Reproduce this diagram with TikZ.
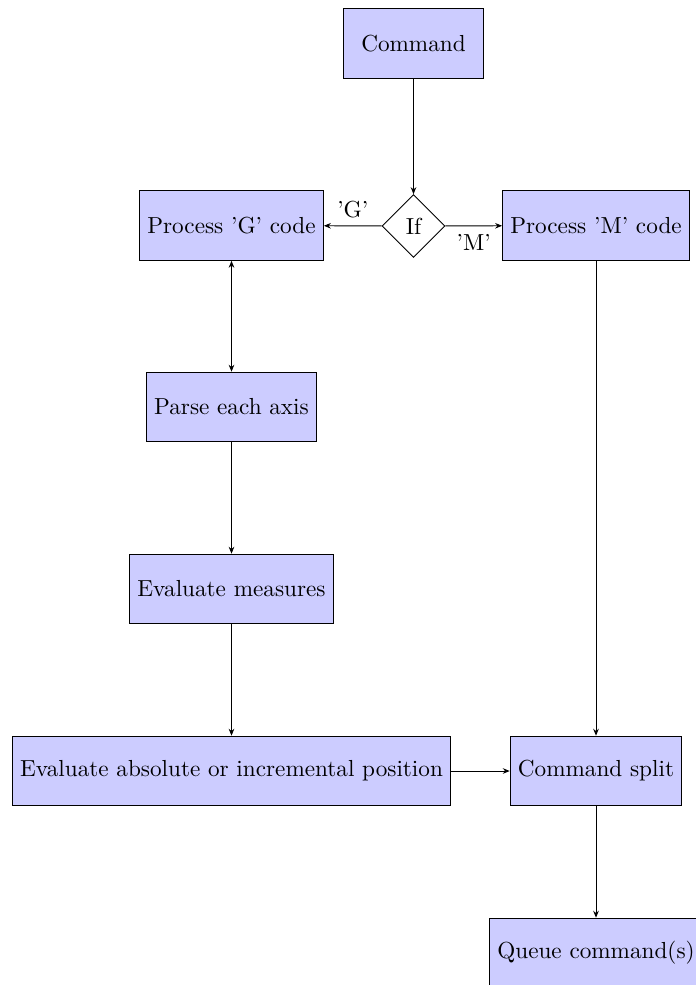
\documentclass[tikz,border=0pt]{standalone}
\usetikzlibrary{shapes.geometric,arrows.meta}
\begin{document}
\begin{tikzpicture}[x=0.431pt,y=-0.431pt,
  block/.style={rectangle,draw,fill=blue!20,minimum width=6em,minimum height=3em},
  decision/.style={diamond,draw,aspect=1},
  arr/.style={-{Stealth[length=3pt,width=2.4pt]}},
  dblarr/.style={{Stealth[length=3pt,width=2.4pt]}-{Stealth[length=3pt,width=2.4pt]}}]
\useasboundingbox (0,0) rectangle (695,985);

% nodes
\node[block] (cmd) at (413.5,43.5) {Command};
\node[decision] (if) at (413.5,226) {If};
\node[block] (pg) at (231.5,225.5) {Process 'G' code};
\node[block] (pm) at (596,225.5) {Process 'M' code};
\node[block] (axis) at (231.5,407) {Parse each axis};
\node[block] (meas) at (231.5,589) {Evaluate measures};
\node[block] (pos) at (231.5,771) {Evaluate absolute or incremental position};
\node[block] (split) at (596,771) {Command split};
\node[block] (queue) at (596,953) {Queue command(s)};

% connectors
\draw[arr] (cmd) -- (if);
\draw[arr] (if) -- node[above] {'G'} (pg);
\draw[arr] (if) -- node[below] {'M'} (pm);
\draw[dblarr] (pg) -- (axis);
\draw[arr] (axis) -- (meas);
\draw[arr] (meas) -- (pos);
\draw[arr] (pos) -- (split);
\draw[arr] (pm) -- (split);
\draw[arr] (split) -- (queue);
\end{tikzpicture}
\end{document}
